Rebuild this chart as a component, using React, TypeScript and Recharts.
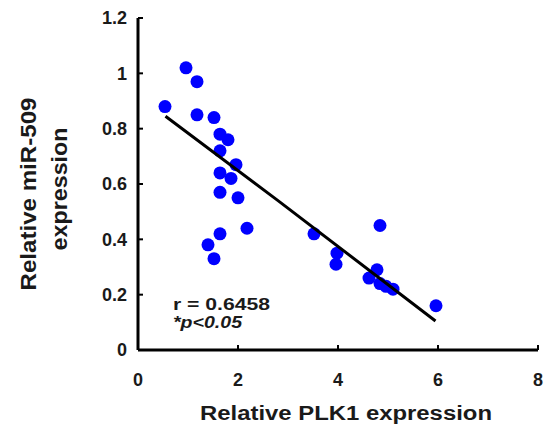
import React from "react";
import {
  ScatterChart,
  Scatter,
  XAxis,
  YAxis,
} from "recharts";

// PLK1 vs miR-509
const plk1 = [
  0.54, 0.96, 1.18, 1.18, 1.52, 1.64, 1.8, 1.64, 1.96, 1.64, 1.86, 1.64, 2.0,
  2.18, 1.64, 1.4, 1.52, 3.52, 3.98, 3.96, 4.84, 4.78, 4.62, 4.84, 4.96, 5.1,
  5.96,
];
const mir509 = [
  0.88, 1.02, 0.97, 0.85, 0.84, 0.78, 0.76, 0.72, 0.67, 0.64, 0.62, 0.57, 0.55,
  0.44, 0.42, 0.38, 0.33, 0.42, 0.35, 0.31, 0.45, 0.29, 0.26, 0.24, 0.23, 0.22,
  0.16,
];

const fitX = [0.55, 2.8, 5.95];
const fitY = [0.845, 0.54, 0.105];

const xTicks = [0, 2, 4, 6, 8];
const yTicks = [0, 0.2, 0.4, 0.6, 0.8, 1, 1.2];

const points = plk1.map((x, i) => ({ x, y: mir509[i] }));
const fitLine = fitX.map((x, i) => ({ x, y: fitY[i] }));

const FONT = "'Liberation Sans', Arial, sans-serif";
const INK = "#1a1a1a";

const Dot = (props: any) => (
  <circle cx={props.cx} cy={props.cy} r={6.5} fill="#0000ff" />
);

function Notes() {
  return (
    <g fontFamily={FONT} fontWeight="bold" fill={INK}>
      <text x={173} y={310} fontSize={16} textLength={97} lengthAdjust="spacingAndGlyphs">
        r = 0.6458
      </text>
      <text x={173} y={328} fontSize={16} fontStyle="italic" textLength={69} lengthAdjust="spacingAndGlyphs">
        *p&lt;0.05
      </text>
      <text x={200} y={420} fontSize={20} textLength={292} lengthAdjust="spacingAndGlyphs">
        Relative PLK1 expression
      </text>
      <text
        x={0}
        y={0}
        fontSize={22}
        textAnchor="middle"
        textLength={193}
        lengthAdjust="spacingAndGlyphs"
        transform="translate(36,194) rotate(-90)"
      >
        Relative miR-509
      </text>
      <text
        x={0}
        y={0}
        fontSize={22}
        textAnchor="middle"
        textLength={123}
        lengthAdjust="spacingAndGlyphs"
        transform="translate(67,189) rotate(-90)"
      >
        expression
      </text>
    </g>
  );
}

export default function App() {
  const tickStyle = { fontFamily: FONT, fontWeight: "bold", fontSize: 18, fill: INK };
  return (
    <div style={{ position: "absolute", left: 0, top: 0, background: "#fff" }}>
      <ScatterChart
        width={552}
        height={429}
        margin={{ top: 18, right: 14, left: 0, bottom: 0 }}
      >
        <XAxis
          type="number"
          dataKey="x"
          domain={[0, 8]}
          ticks={xTicks}
          height={79}
          axisLine={{ stroke: "#000", strokeWidth: 3 }}
          tickLine={{ stroke: "#000", strokeWidth: 2 }}
          tickSize={-5}
          tickMargin={28}
          tick={tickStyle}
          interval={0}
        />
        <YAxis
          type="number"
          dataKey="y"
          domain={[0, 1.2]}
          ticks={yTicks}
          width={138}
          axisLine={{ stroke: "#000", strokeWidth: 3 }}
          tickLine={{ stroke: "#000", strokeWidth: 2 }}
          tickSize={-5}
          tickMargin={16}
          tick={tickStyle}
          interval={0}
        />
        <Scatter data={points} shape={Dot} isAnimationActive={false} />
        <Scatter
          data={fitLine}
          line={{ stroke: "#000", strokeWidth: 3 }}
          lineType="joint"
          shape={() => <g />}
          isAnimationActive={false}
        />
        <Notes />
      </ScatterChart>
    </div>
  );
}
